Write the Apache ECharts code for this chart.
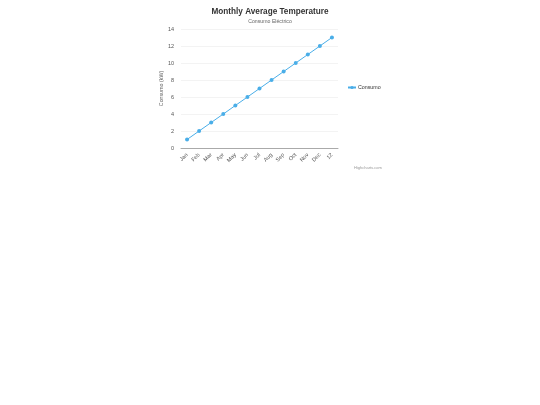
<!DOCTYPE html>
<html>
<head>
<meta charset="utf-8">
<script src="https://cdn.jsdelivr.net/npm/echarts@6/dist/echarts.min.js"></script>
<style>
  html, body { margin: 0; padding: 0; background: #fff; }
  #main { width: 540px; height: 405px; }
</style>
</head>
<body>
<div id="main"></div>
<script>
// data
var months = ['Jan', 'Feb', 'Mar', 'Apr', 'May', 'Jun', 'Jul', 'Aug', 'Sep', 'Oct', 'Nov', 'Dec', '12'];
var consumo = [1, 2, 3, 4, 5, 6, 7, 8, 9, 10, 11, 12, 13];
var yTicks = [0, 14, 2]; // min, max, interval

var chart = echarts.init(document.getElementById('main'));
var font = '"Liberation Sans", Arial, sans-serif';

var option = {
  animation: false,
  textStyle: { fontFamily: font },
  title: {
    text: 'Monthly Average Temperature',
    subtext: 'Consumo Eléctrico',
    left: 'center',
    top: 3,
    itemGap: 3,
    textStyle: { fontSize: 8.2, fontWeight: 'bold', color: '#333', fontFamily: font },
    subtextStyle: { fontSize: 5.2, color: '#666', fontFamily: font }
  },
  legend: {
    data: ['Consumo'],
    orient: 'vertical',
    left: 342,
    top: 80,
    itemWidth: 8,
    itemHeight: 4,
    itemGap: 4,
    textStyle: { fontSize: 5.3, color: '#333', fontFamily: font, padding: [0, 0, 0, -3] }
  },
  grid: {
    left: 181,
    right: 202,
    top: 29,
    bottom: 257
  },
  xAxis: {
    type: 'category',
    data: months,
    axisLine: { lineStyle: { color: '#aaa', width: 1 } },
    axisTick: { show: false },
    axisLabel: {
      rotate: 45,
      fontSize: 5.5,
      color: '#555',
      margin: 6,
      interval: 0
    }
  },
  yAxis: {
    type: 'value',
    min: yTicks[0],
    max: yTicks[1],
    interval: yTicks[2],
    name: 'Consumo (kW)',
    nameLocation: 'middle',
    nameGap: 16,
    nameTextStyle: { fontSize: 5.3, color: '#666' },
    axisLine: { show: false },
    axisTick: { show: false },
    axisLabel: { fontSize: 5.5, color: '#555', margin: 7 },
    splitLine: { lineStyle: { color: '#e6e6e6', width: 0.5 } }
  },
  series: [
    {
      name: 'Consumo',
      type: 'line',
      data: consumo,
      symbol: 'circle',
      symbolSize: 4,
      itemStyle: { color: '#4aaee8' },
      lineStyle: { color: '#4aaee8', width: 1 }
    }
  ],
  graphic: [
    {
      type: 'text',
      left: 354,
      top: 166,
      style: { text: 'Highcharts.com', fontSize: 4, fill: '#999', fontFamily: font }
    }
  ]
};

chart.setOption(option);
</script>
</body>
</html>
